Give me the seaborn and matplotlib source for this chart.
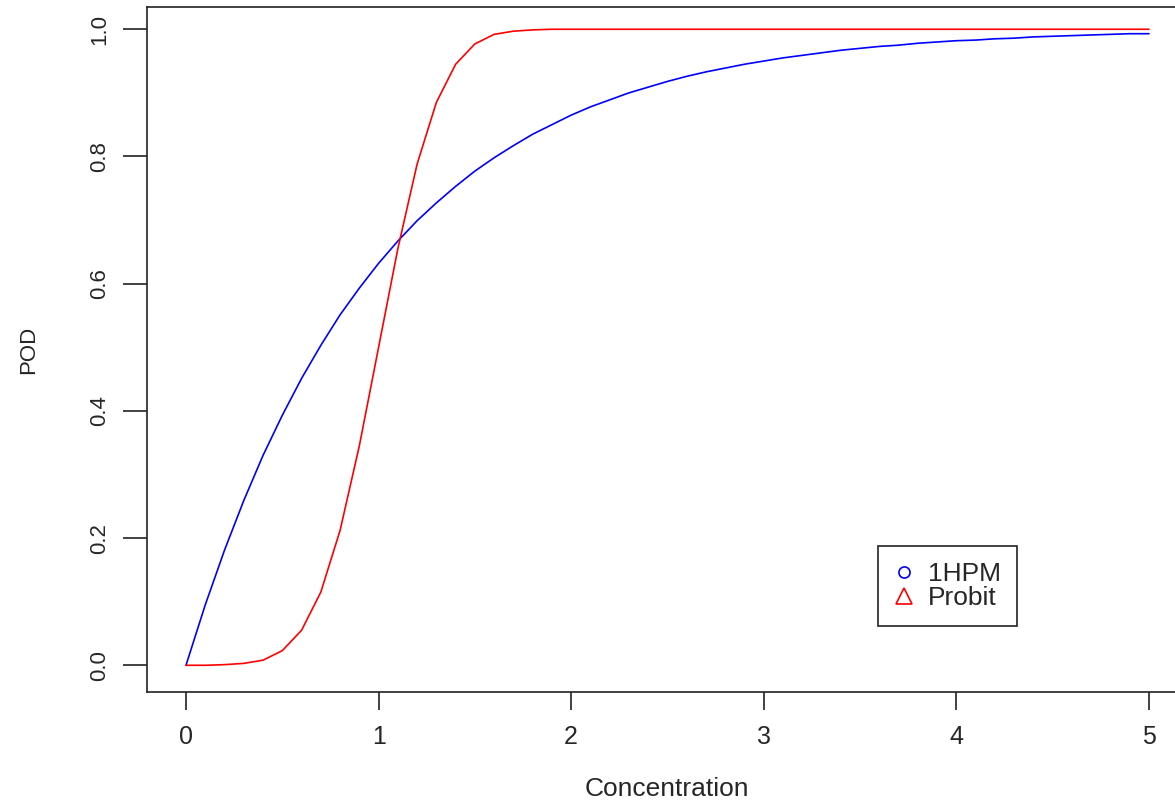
import numpy as np
import pandas as pd
import seaborn as sn
import matplotlib.pyplot as plt
from matplotlib.lines import Line2D

# concentration grid (0 .. 5, step 0.1)
conc = [round(0.1 * i, 1) for i in range(51)]

# POD
pod_1hpm = [0.000, 0.095, 0.181, 0.259, 0.330, 0.393, 0.451, 0.503, 0.551, 0.593,
            0.632, 0.667, 0.699, 0.727, 0.753, 0.777, 0.798, 0.817, 0.835, 0.850,
            0.865, 0.878, 0.889, 0.900, 0.909, 0.918, 0.926, 0.933, 0.939, 0.945,
            0.950, 0.955, 0.959, 0.963, 0.967, 0.970, 0.973, 0.975, 0.978, 0.980,
            0.982, 0.983, 0.985, 0.986, 0.988, 0.989, 0.990, 0.991, 0.992, 0.993,
            0.993]
pod_probit = [0.000, 0.000, 0.001, 0.003, 0.008, 0.023, 0.055, 0.115, 0.212, 0.345,
              0.500, 0.655, 0.788, 0.885, 0.945, 0.977, 0.992, 0.997, 0.999, 1.000,
              1.000, 1.000, 1.000, 1.000, 1.000, 1.000, 1.000, 1.000, 1.000, 1.000,
              1.000, 1.000, 1.000, 1.000, 1.000, 1.000, 1.000, 1.000, 1.000, 1.000,
              1.000, 1.000, 1.000, 1.000, 1.000, 1.000, 1.000, 1.000, 1.000, 1.000,
              1.000]

labels = ["1HPM", "Probit"]
colors = ["#0000ff", "#ff0000"]

df = pd.DataFrame({
    "Concentration": conc * 2,
    "POD": pod_1hpm + pod_probit,
    "model": [labels[0]] * len(conc) + [labels[1]] * len(conc),
})

sn.set_style("white")
plt.rcParams['font.family'] = ['Liberation Sans', 'DejaVu Sans']

fig = plt.figure(figsize=(11.75, 8), dpi=100)
# box runs past the right edge of the figure, as in the original
ax = fig.add_axes([146.7 / 1175, 108 / 800, (1187.5 - 146.7) / 1175, 685 / 800])

sn.lineplot(data=df, x="Concentration", y="POD", hue="model",
            palette=colors, linewidth=1.2, legend=False, ax=ax)

ax.set_xlim(-0.204, 5.2)
ax.set_ylim(-0.042, 1.035)
ax.set_xticks([0, 1, 2, 3, 4, 5])
ax.set_yticks([0.0, 0.2, 0.4, 0.6, 0.8, 1.0])
ax.set_yticklabels(["0.0", "0.2", "0.4", "0.6", "0.8", "1.0"], rotation=90, va="center")

for s in ax.spines.values():
    s.set_color("#222222")
    s.set_linewidth(1.2)

ax.tick_params(axis="x", length=13, width=1.2, color="#222222", pad=11,
               labelsize=18, bottom=True)
ax.tick_params(axis="y", length=17, width=1.2, color="#222222", pad=9,
               labelsize=16, left=True)

ax.set_xlabel("Concentration", fontsize=19, labelpad=20)
ax.set_ylabel("POD", fontsize=16, labelpad=36)

handles = [Line2D([], [], color=colors[0], marker="o", linestyle="none",
                  markerfacecolor="none", markersize=8, markeredgewidth=1.2),
           Line2D([], [], color=colors[1], marker="^", linestyle="none",
                  markerfacecolor="none", markersize=11, markeredgewidth=1.2)]
leg = ax.legend(handles, labels, loc="upper left",
                bbox_to_anchor=(878 / 1175, 1 - 546 / 800),
                bbox_transform=fig.transFigure, borderaxespad=0,
                fancybox=False, framealpha=1, edgecolor="#222222",
                fontsize=19, handletextpad=0.5, labelspacing=0.0,
                borderpad=0.6, handlelength=0.8)
leg.get_frame().set_linewidth(1.2)

fig.savefig("out.png", dpi=100)
